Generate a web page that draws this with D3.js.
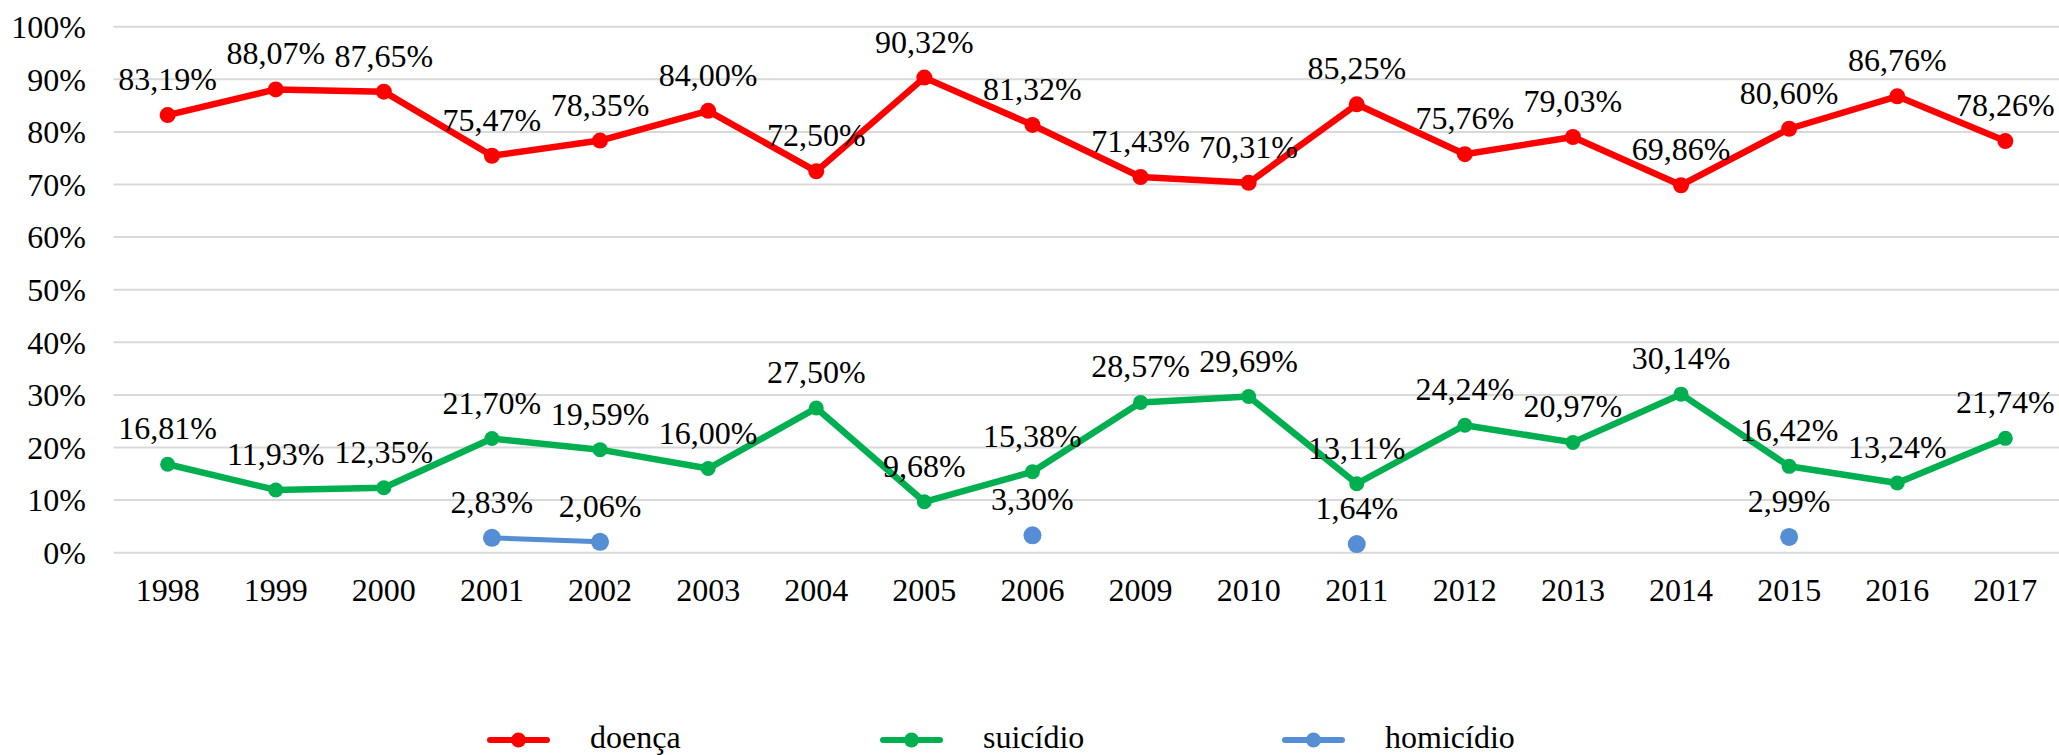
<!DOCTYPE html>
<html><head><meta charset="utf-8">
<script src="https://cdn.jsdelivr.net/npm/d3@7"></script>
<style>
html,body{margin:0;padding:0;background:#fff;}
svg{display:block;}
</style></head>
<body>
<svg id="chart" width="2059" height="755"></svg>
<script>
const categories = ["1998","1999","2000","2001","2002","2003","2004","2005","2006","2009","2010","2011","2012","2013","2014","2015","2016","2017"];
const doenca = [0.8319,0.8807,0.8765,0.7547,0.7835,0.8400,0.7250,0.9032,0.8132,0.7143,0.7031,0.8525,0.7576,0.7903,0.6986,0.8060,0.8676,0.7826];
const suicidio = [0.1681,0.1193,0.1235,0.2170,0.1959,0.1600,0.2750,0.0968,0.1538,0.2857,0.2969,0.1311,0.2424,0.2097,0.3014,0.1642,0.1324,0.2174];
const homicidio = [null,null,null,0.0283,0.0206,null,null,null,0.0330,null,null,0.0164,null,null,null,0.0299,null,null];
const yTicks = [0,0.1,0.2,0.3,0.4,0.5,0.6,0.7,0.8,0.9,1.0];
const seriesNames = ["doença","suicídio","homicídio"];
const seriesColors = ["#FF0000","#00B050","#558ED5"];

const FONT = '"Liberation Serif", "Times New Roman", serif';
const FS = 32;

const svg = d3.select("#chart");
const plot = {left:113.6, right:2059.4, top:26.7, bottom:552.7};
const x = d3.scaleBand().domain(categories).range([plot.left, plot.right]).padding(0);
const y = d3.scaleLinear().domain([0,1]).range([plot.bottom, plot.top]);
const cx = c => x(c) + x.bandwidth()/2;

const loc = d3.formatLocale({decimal:",", thousands:".", grouping:[3], currency:["","€"]});
const fmtLabel = loc.format(".2%");
const fmtTick = loc.format(".0%");

// gridlines
svg.append("g").selectAll("line").data(yTicks).join("line")
  .attr("x1", plot.left).attr("x2", plot.right)
  .attr("y1", d=>y(d)).attr("y2", d=>y(d))
  .attr("stroke","#D9D9D9").attr("stroke-width",2);

// y axis labels
const yAxis = d3.axisLeft(y).tickValues(yTicks).tickFormat(fmtTick).tickSize(0).tickPadding(0);
const yg = svg.append("g").attr("transform",`translate(${86},0)`).call(yAxis);
yg.select(".domain").remove();
yg.selectAll("text").style("font-family",FONT).style("font-size",FS+"px").attr("fill","#000").attr("dy","0.34em");

// x axis labels
const xAxis = d3.axisBottom(x).tickSize(0).tickPadding(0);
const xg = svg.append("g").attr("transform",`translate(0,${579})`).call(xAxis);
xg.select(".domain").remove();
xg.selectAll("text").style("font-family",FONT).style("font-size",FS+"px").attr("fill","#000").attr("dy","0.7em");

const allSeries = [doenca, suicidio, homicidio];
const widths = [6.5,6.5,5];
const radii = [8,7.5,9];

allSeries.forEach((vals,si)=>{
  const pts = vals.map((v,i)=>({c:categories[i], v}));
  const line = d3.line().defined(d=>d.v!==null).x(d=>cx(d.c)).y(d=>y(d.v));
  svg.append("path").datum(pts).attr("d",line)
    .attr("fill","none").attr("stroke",seriesColors[si]).attr("stroke-width",widths[si])
    .attr("stroke-linejoin","round").attr("stroke-linecap","round");
  svg.append("g").selectAll("circle").data(pts.filter(d=>d.v!==null)).join("circle")
    .attr("cx",d=>cx(d.c)).attr("cy",d=>y(d.v)).attr("r",radii[si]).attr("fill",seriesColors[si]);
});

// labels on top
allSeries.forEach((vals,si)=>{
  const pts = vals.map((v,i)=>({c:categories[i], v})).filter(d=>d.v!==null);
  svg.append("g").selectAll("text").data(pts).join("text")
    .attr("x",d=>cx(d.c)).attr("y",d=>y(d.v)-25)
    .attr("text-anchor","middle")
    .style("font-family",FONT).style("font-size",FS+"px").attr("fill","#000")
    .text(d=>fmtLabel(d.v));
});

// legend
const legendX = [490, 883, 1285];
seriesNames.forEach((name,si)=>{
  const g = svg.append("g").attr("transform",`translate(${legendX[si]},740)`);
  g.append("line").attr("x1",0).attr("x2",57).attr("y1",0).attr("y2",0)
    .attr("stroke",seriesColors[si]).attr("stroke-width",6).attr("stroke-linecap","round");
  g.append("circle").attr("cx",28.5).attr("cy",0).attr("r",7.5).attr("fill",seriesColors[si]);
  g.append("text").attr("x",100).attr("y",8)
    .style("font-family",FONT).style("font-size",FS+"px").attr("fill","#000").text(name);
});
</script>
</body></html>
